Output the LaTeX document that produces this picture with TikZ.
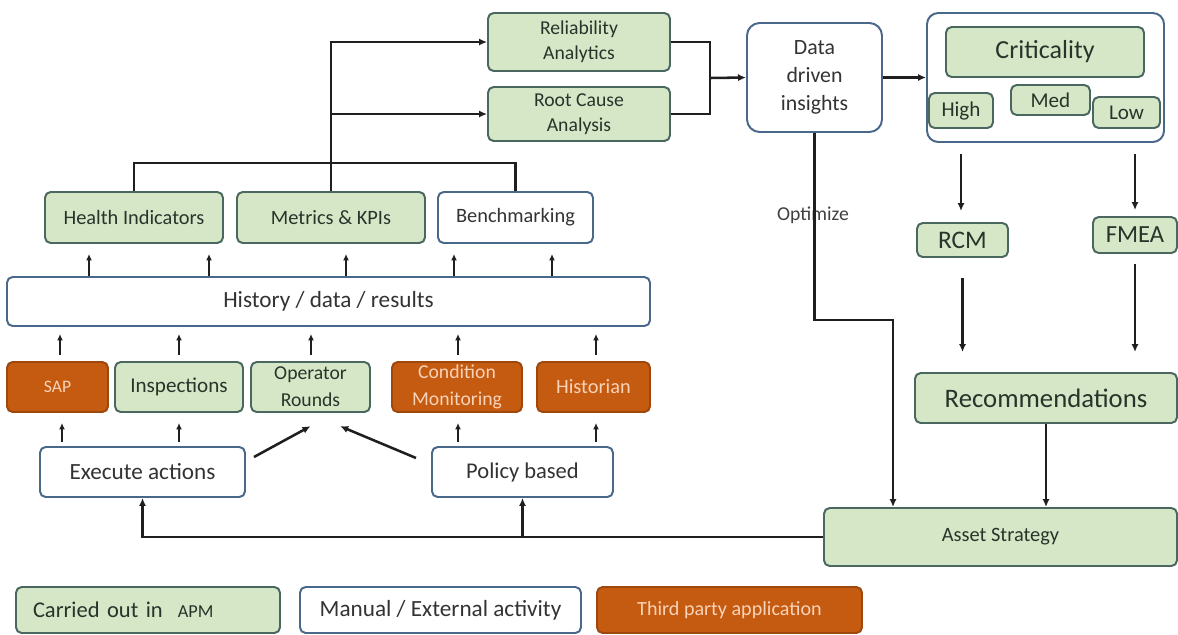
\documentclass[tikz,border=0pt]{standalone}
\usepackage{fontspec}
\setmainfont{Carlito}
\usetikzlibrary{arrows.meta,positioning}
\definecolor{apmfill}{HTML}{D6E7C8}
\definecolor{apmdraw}{HTML}{4A6860}
\definecolor{apmtext}{HTML}{26352A}
\definecolor{extdraw}{HTML}{4A688A}
\definecolor{tpfill}{HTML}{C55A11}
\definecolor{tptext}{HTML}{F8D3B8}
\tikzset{
  bx/.style={rounded corners=4pt,line width=1.4pt,inner sep=1pt,align=center},
  apm/.style={bx,draw=apmdraw,fill=apmfill,text=apmtext},
  ext/.style={bx,draw=extdraw,fill=white,text=black!80},
  tpa/.style={bx,draw=tpfill!80!black,fill=tpfill,text=tptext},
  sz/.style 2 args={minimum width=#1*0.025cm,minimum height=#2*0.025cm},
  fs/.style 2 args={font=\fontsize{#1pt}{#2pt}\selectfont},
  ln/.style={draw=black!88,line width=1.8pt},
  arr/.style={ln,-{Latex[length=2mm,width=1.8mm]}},
  sar/.style={ln,-{Latex[length=1.6mm,width=1.5mm]}},
}
\begin{document}
\begin{tikzpicture}[x=0.025cm,y=-0.025cm]
\useasboundingbox (0,0) rectangle (1178,634);
% ---------------- analytics and insights
\node[apm,sz={182}{58},fs={14}{17.5}] (ra) at (579,42) {Reliability\\Analytics};
\node[apm,sz={182}{54},fs={14}{17.5}] (rca) at (579,114) {Root Cause\\Analysis};
\node[ext,sz={135}{109},fs={15.5}{20},rounded corners=9pt] (ddi) at (814.5,77.5) {Data\\driven\\insights};
\node[ext,sz={237}{129},rounded corners=8pt] (crit) at (1045.5,77.5) {};
\node[apm,sz={198}{50},fs={18.5}{20}] (critin) at (1045,52) {Criticality};
\node[apm,sz={64}{35},fs={15}{16}] (hi) at (961,110.5) {High};
\node[apm,sz={79}{30},fs={15}{16}] (med) at (1050.5,100) {Med};
\node[apm,sz={67}{31},fs={15}{16}] (lo) at (1126.5,112.5) {Low};
\node[apm,sz={91}{34},fs={18}{19}] (rcm) at (962.5,240) {RCM};
\node[apm,sz={84}{36},fs={17.5}{19}] (fmea) at (1135,235) {FMEA};
\node[apm,sz={262}{50},fs={19}{20}] (rec) at (1046,398) {Recommendations};
\node[apm,sz={353}{58},fs={14.5}{16}] (ast) at (1000.5,537) {Asset Strategy};
\node[fs={14}{16},text=black!75] (opt) at (813,215) {Optimize};
% ---------------- indicators and history
\node[apm,sz={178}{51},fs={14.5}{16}] (hind) at (134,217.5) {Health Indicators};
\node[apm,sz={188}{51},fs={14.5}{16}] (mkpi) at (331,217.5) {Metrics \& KPIs};
\node[ext,sz={155}{51},fs={14.5}{16}] (bench) at (515.5,217.5) {Benchmarking};
\node[ext,sz={643}{49},fs={16.5}{18}] (hist) at (328.5,301.5) {History / data / results};
% ---------------- sources
\node[tpa,sz={101}{50},fs={12.5}{14}] (sap) at (57.5,387) {SAP};
\node[apm,sz={128}{50},fs={15}{16}] (insp) at (179,387) {Inspections};
\node[apm,sz={119}{50},fs={14}{19}] (oprd) at (310.5,387) {Operator\\Rounds};
\node[tpa,sz={130}{50},fs={14}{19}] (cmon) at (457,387) {Condition\\Monitoring};
\node[tpa,sz={113}{50},fs={14.5}{16}] (hstn) at (593.5,387) {Historian};
\node[ext,sz={205}{50},fs={16.5}{18}] (exec) at (142.5,472) {Execute actions};
\node[ext,sz={181}{50},fs={16}{18}] (pol) at (522.5,472) {Policy based};
% ---------------- legend
\node[apm,sz={264}{46},fs={16}{18},text width=230*0.025cm,align=left] (lg1) at (148,610)
  {Carried out in\ \ {\fontsize{13pt}{15pt}\selectfont APM}};
\node[ext,sz={281}{46},fs={16.5}{18}] (lg2) at (440.5,610) {Manual / External activity};
\node[tpa,sz={265}{46},fs={14.3}{16}] (lg3) at (729.5,610) {Third party application};
% ---------------- connectors
\coordinate (jn) at (710,78);
\coordinate (bend) at (893,320);
\draw[ln] (hind.north) -- ++(0,-28) -| (bench.north);
\draw[arr] (mkpi.north) |- (ra.west);
\draw[arr] (mkpi.north |- rca.west) -- (rca.west);
\draw[ln] (ra.east) -| (jn);
\draw[ln] (rca.east) -| (jn);
\draw[arr] (jn) -- (ddi.west);
\draw[arr] (ddi.east) -- (crit.west);
\draw[arr,shorten <=.275cm,shorten >=.275cm] (hi.south |- crit.south) -- (hi.south |- rcm.north);
\draw[arr,shorten <=.275cm,shorten >=.15cm] (fmea.north |- crit.south) -- (fmea.north);
\draw[arr,shorten <=.5cm,shorten >=.5cm] (rcm.south) -- (rcm.south |- rec.north);
\draw[arr,shorten <=.25cm,shorten >=.5cm] (fmea.south) -- (fmea.south |- rec.north);
\draw[arr] (rec.south) -- (rec.south |- ast.north);
\draw[arr] (ddi.south) |- (bend) -- (bend |- ast.north);
\draw[arr] (ast.west) -| (exec.south);
\draw[arr] (ast.west -| pol.south) -- (pol.south);
\foreach \x in {89,209,346,454,552}
  \draw[sar,shorten >=.25cm] (\x,0 |- hist.north) -- (\x,0 |- hind.south);
\foreach \x in {60,179,311,458,596}
  \draw[sar,shorten <=.15cm,shorten >=.175cm] (\x,0 |- sap.north) -- (\x,0 |- hist.south);
\foreach \x in {62,179}
  \draw[sar,shorten <=.1cm,shorten >=.25cm] (\x,0 |- exec.north) -- (\x,0 |- sap.south);
\foreach \x in {458,596}
  \draw[sar,shorten <=.1cm,shorten >=.25cm] (\x,0 |- pol.north) -- (\x,0 |- sap.south);
\draw[arr] ([xshift=.2cm,yshift=.375cm]exec.east) -- ([yshift=-.33cm]oprd.south);
\draw[arr] ([xshift=-.375cm,yshift=.35cm]pol.west) -- ([xshift=.74cm,yshift=-.33cm]oprd.south);
\end{tikzpicture}
\end{document}
